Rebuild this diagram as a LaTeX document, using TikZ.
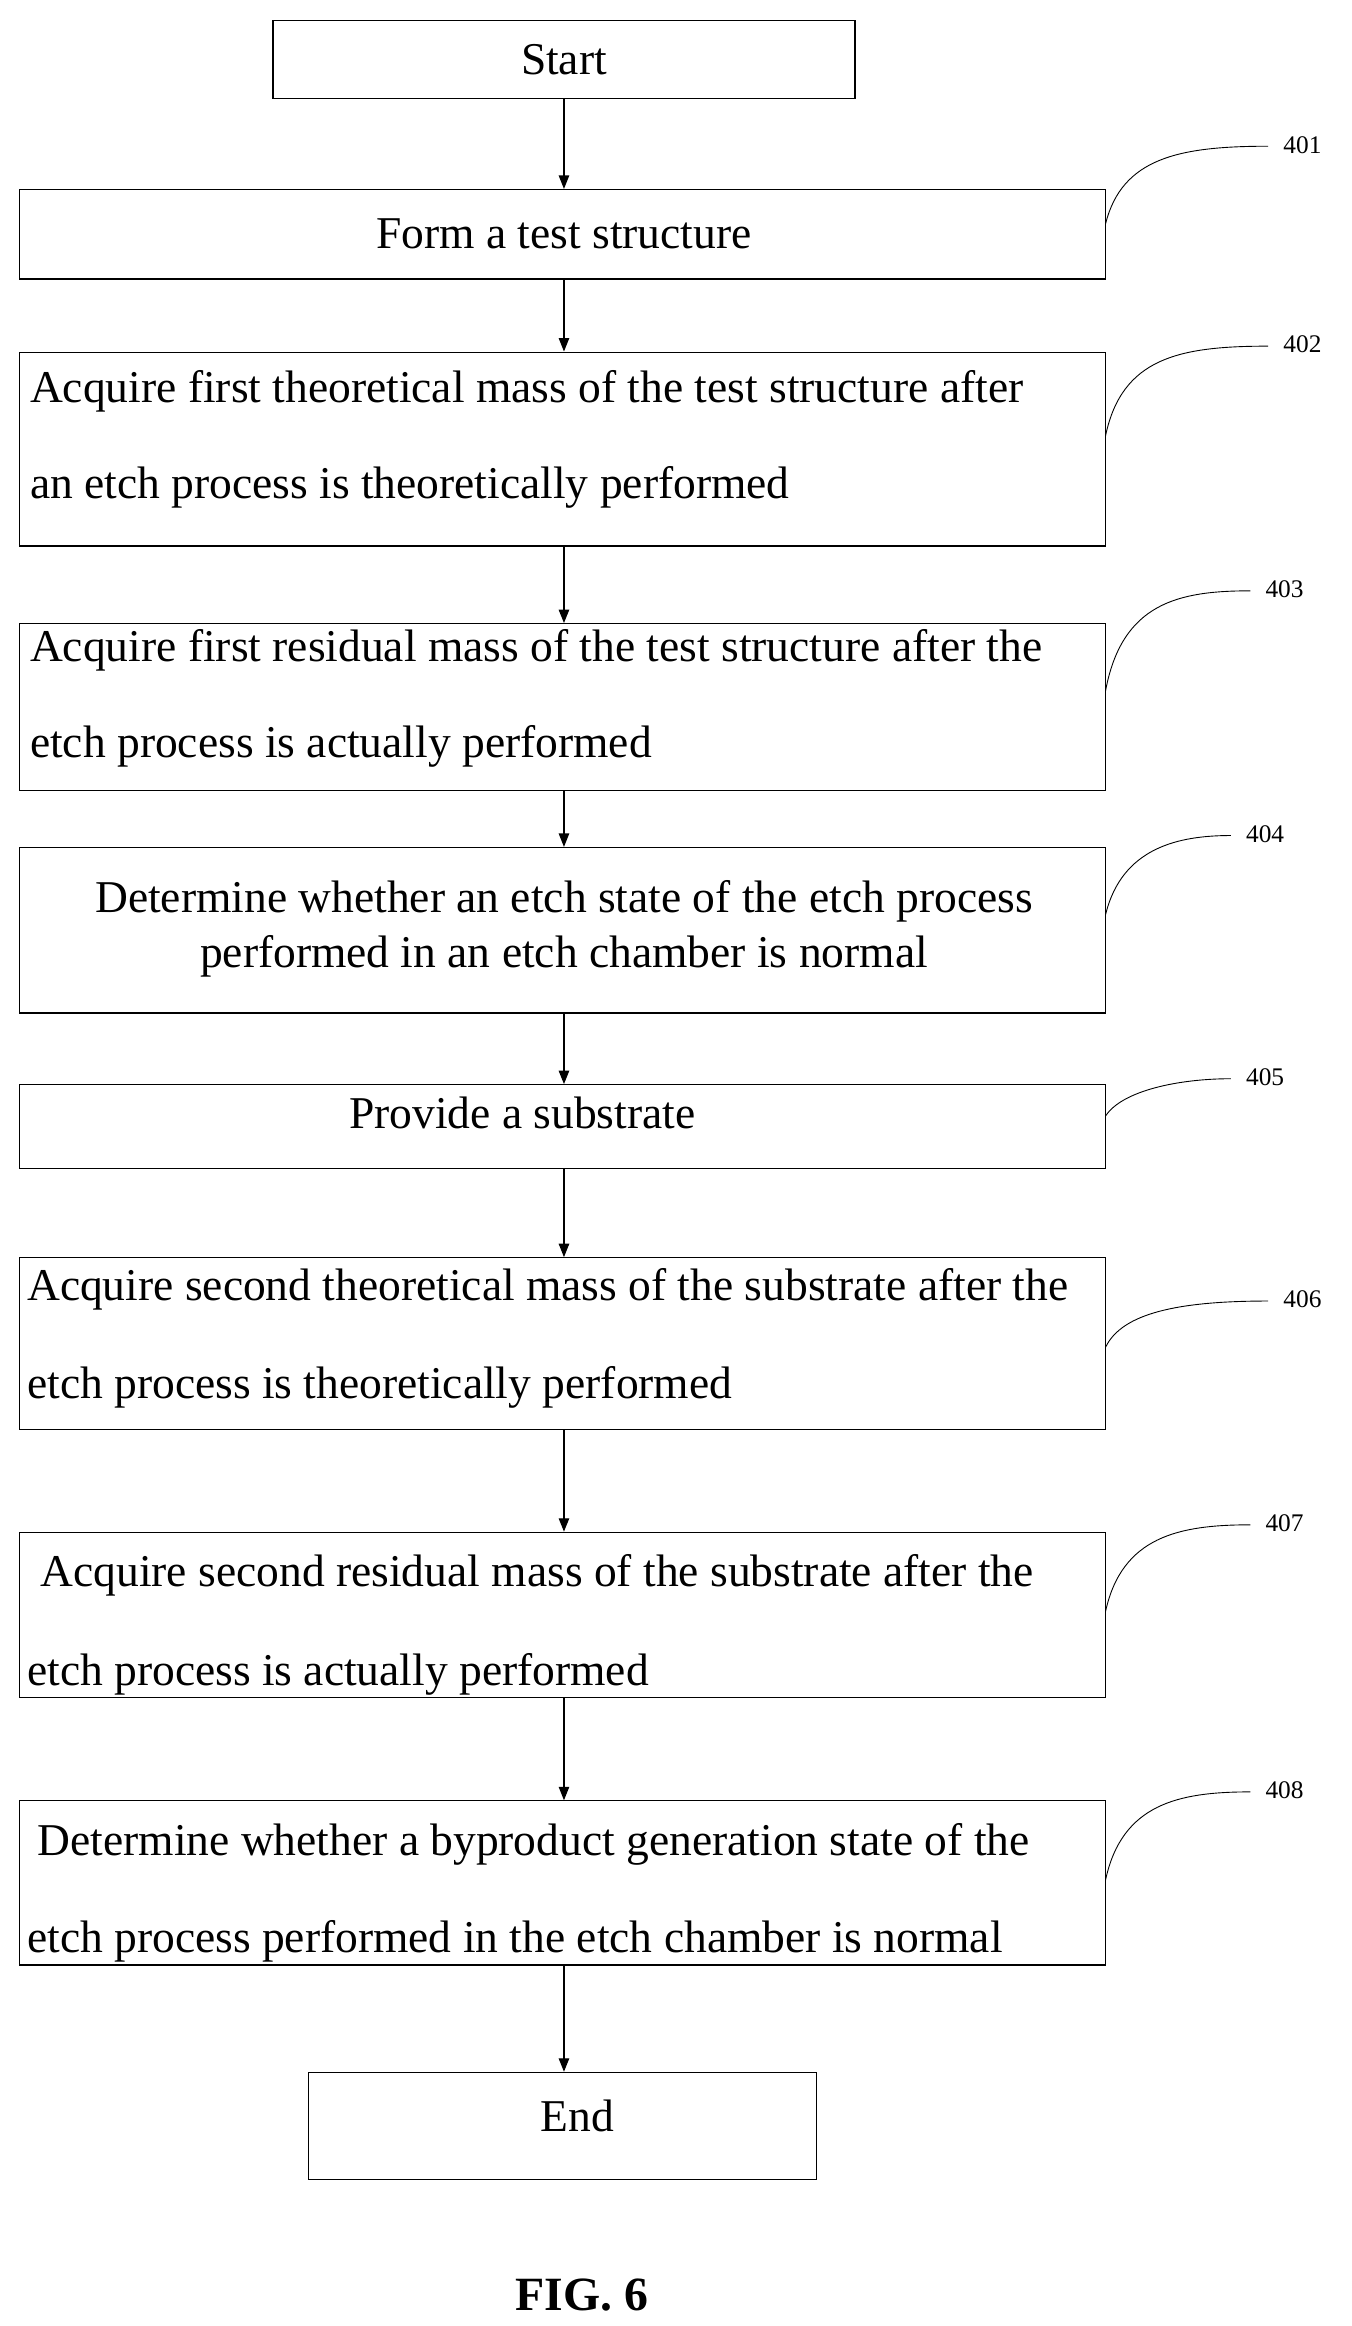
\documentclass[tikz,border=0pt]{standalone}
\usepackage{fontspec}
\setmainfont{Liberation Serif}
\usetikzlibrary{arrows.meta}
\begin{document}
\begin{tikzpicture}[x=1pt,y=-1pt,
  box/.style={draw,line width=0.8pt,inner sep=0pt},
  txt/.style={font=\fontsize{30.5}{34}\selectfont,inner sep=0pt},
  lbl/.style={font=\fontsize{17}{20}\selectfont,inner sep=0pt,anchor=west},
  arr/.style={-{Triangle[length=9pt,width=7pt]},line width=0.8pt},
  lead/.style={line width=0.6pt}]
\useasboundingbox (0,0) rectangle (906,1559);
\newcommand{\bx}[5]{\node[box,minimum width={#4-#2},minimum height={#5-#3}] (#1) at ({(#2+#4)/2},{(#3+#5)/2}) {};}
\bx{s}{183}{14}{573}{66}
\bx{b1}{13}{127}{741}{187}
\bx{b2}{13}{236}{741}{366}
\bx{b3}{13}{418}{741}{530}
\bx{b4}{13}{568}{741}{679}
\bx{b5}{13}{727}{741}{783}
\bx{b6}{13}{843}{741}{958}
\bx{b7}{13}{1027}{741}{1138}
\bx{b8}{13}{1207}{741}{1317}
\bx{e}{207}{1389}{547}{1461}
\node[txt] (ts) at (378,40) {Start};
\node[txt] (t1) at (378,157) {Form a test structure};
\node[txt,anchor=west] (t2a) at (20,262) {Acquire first theoretical mass of the test structure after};
\node[txt,anchor=west] (t2b) at (20,327) {an etch process is theoretically performed};
\node[txt,anchor=west] (t3a) at (20,436) {Acquire first residual mass of the test structure after the};
\node[txt,anchor=west] (t3b) at (20,500) {etch process is actually performed};
\node[txt] (t4a) at (378,604) {Determine whether an etch state of the etch process};
\node[txt] (t4b) at (378,641) {performed in an etch chamber is normal};
\node[txt] (t5) at (350,746) {Provide a substrate};
\node[txt,anchor=west] (t6a) at (18,864) {Acquire second theoretical mass of the substrate after the};
\node[txt,anchor=west] (t6b) at (18,930) {etch process is theoretically performed};
\node[txt,anchor=west] (t7a) at (27,1056) {Acquire second residual mass of the substrate after the};
\node[txt,anchor=west] (t7b) at (18,1122) {etch process is actually performed};
\node[txt,anchor=west] (t8a) at (25,1236) {Determine whether a byproduct generation state of the};
\node[txt,anchor=west] (t8b) at (18,1301) {etch process performed in the etch chamber is normal};
\node[txt] (te) at (387,1418) {End};
\node[font=\bfseries\fontsize{32}{36}\selectfont,inner sep=0pt] (fig) at (390,1538) {FIG. 6};
\draw[arr] (s) -- (s|-b1.north);
\draw[arr] (b1.south-|s) -- (s|-b2.north);
\draw[arr] (b2.south-|s) -- (s|-b3.north);
\draw[arr] (b3.south-|s) -- (s|-b4.north);
\draw[arr] (b4.south-|s) -- (s|-b5.north);
\draw[arr] (b5.south-|s) -- (s|-b6.north);
\draw[arr] (b6.south-|s) -- (s|-b7.north);
\draw[arr] (b7.south-|s) -- (s|-b8.north);
\draw[arr] (b8.south-|s) -- (s|-e.north);
\newcommand{\ld}[5]{\coordinate (c#1) at (#4,#5);
 \draw[lead] (741,#3) .. controls (752,{#5+8}) and (790,#5) .. (c#1);
 \node[lbl] (l#1) at ({#4+10},{#5-1}) {#2};}
\ld{1}{401}{150}{850}{98}
\ld{2}{402}{292}{850}{232}
\ld{3}{403}{463}{838}{396}
\ld{4}{404}{613}{825}{560}
\ld{5}{405}{748}{825}{723}
\ld{6}{406}{903}{850}{872}
\ld{7}{407}{1080}{838}{1022}
\ld{8}{408}{1260}{838}{1201}
\end{tikzpicture}
\end{document}
